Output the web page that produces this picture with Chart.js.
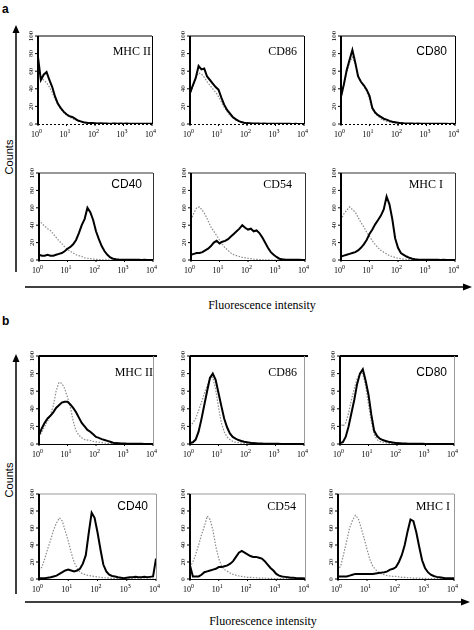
<!DOCTYPE html>
<html>
<head>
<meta charset="utf-8">
<script src="https://cdn.jsdelivr.net/npm/chart.js@4.4.1/dist/chart.umd.min.js"></script>
<style>
html, body { margin: 0; padding: 0; background: #fff; }
#fig { position: relative; width: 474px; height: 630px; overflow: hidden; }
#fig svg { position: absolute; left: 0; top: 0; }
#fig canvas { position: absolute; }
</style>
</head>
<body>
<div id="fig">
<svg width="474" height="630">
  <g fill="#000" stroke="none">
    <text x="2" y="13" font-family="Liberation Sans" font-weight="bold" font-size="12">a</text>
    <text x="2" y="325" font-family="Liberation Sans" font-weight="bold" font-size="12">b</text>
    <polygon points="16,25 12.5,33 19.5,33"/>
    <polygon points="472,287 463,283.5 463,290.5"/>
    <polygon points="16,354 12.5,362 19.5,362"/>
    <polygon points="470,602 461,598.5 461,605.5"/>
    <text transform="translate(13,157) rotate(-90)" text-anchor="middle" font-family="Liberation Sans" font-size="11">Counts</text>
    <text transform="translate(13,480) rotate(-90)" text-anchor="middle" font-family="Liberation Sans" font-size="11">Counts</text>
    <text x="262" y="309" text-anchor="middle" font-family="Liberation Serif" font-size="12">Fluorescence intensity</text>
    <text x="263" y="625" text-anchor="middle" font-family="Liberation Serif" font-size="12">Fluorescence intensity</text>
  </g>
  <g stroke="#000" stroke-width="1.5">
    <line x1="16" y1="31" x2="16" y2="272"/>
    <line x1="25" y1="287" x2="464" y2="287"/>
    <line x1="16" y1="360" x2="16" y2="594"/>
    <line x1="25" y1="602" x2="462" y2="602"/>
  </g>
</svg>
</div>
<script>
// fluorescence channel positions (0.1 decade steps)
const fluor = [1, 1.26, 1.58, 2, 2.51, 3.16, 3.98, 5.01, 6.31, 7.94,
    10, 12.6, 15.8, 20, 25.1, 31.6, 39.8, 50.1, 63.1, 79.4,
    100, 126, 158, 200, 251, 316, 398, 501, 631, 794,
    1000, 1259, 1585, 1995, 2512, 3162, 3981, 5012, 6310, 7943,
    10000];
const xDecades = [1, 10, 100, 1000, 10000];
const xExponents = ["0", "1", "2", "3", "4"];
const yTicks = [0, 20, 40, 60, 80, 100];
const markers = ["MHC II", "CD86", "CD80", "CD40", "CD54", "MHC I"];

// panel a
const aMhc2Stained = [76, 50, 56, 59, 50, 42, 31, 23, 18, 14,
    11, 9, 8, 6, 4, 3, 2, 1.5, 1, 1,
    0.8, 0.6, 0.8, 0.5, 0.6, 0.4, 0.5, 0.7, 0.4, 0.5,
    0.3, 0.5, 0.4, 0.3, 0.4, 0.3, 0.3, 0.4, 0.3, 0.2,
    0.3];
const aMhc2Control = [55, 52, 50, 47, 42, 36, 28, 22, 17, 13,
    10, 8, 6, 5, 3.5, 2.5, 1.5, 1, 0.6, 0.4,
    0.3, 0.2, 0.2, 0.1, 0.1, 0, 0, 0, 0, 0,
    0, 0, 0, 0, 0, 0, 0, 0, 0, 0,
    0];
const aCd86Stained = [35, 44, 52, 66, 62, 63, 54, 50, 46, 42,
    39, 30, 22, 16, 12, 8, 5.5, 3.5, 2.2, 1.5,
    1, 0.8, 0.6, 0.5, 0.6, 0.4, 0.5, 0.3, 0.4, 0.3,
    0.3, 0.2, 0.3, 0.2, 0.2, 0.2, 0.1, 0.2, 0.1, 0.1,
    0.1];
const aCd86Control = [33, 42, 52, 58, 57, 53, 48, 44, 40, 36,
    31, 25, 19, 14, 10, 7, 4.5, 3, 2, 1.2,
    0.8, 0.5, 0.3, 0.2, 0.1, 0, 0, 0, 0, 0,
    0, 0, 0, 0, 0, 0, 0, 0, 0, 0,
    0];
const aCd80Stained = [31, 45, 61, 73, 84, 70, 54, 48, 44, 39,
    32, 18, 13, 10, 8, 6, 5, 3.5, 2.5, 2,
    1.5, 1, 0.8, 0.7, 0.5, 0.6, 0.4, 0.5, 0.3, 0.4,
    0.3, 0.4, 0.2, 0.3, 0.2, 0.3, 0.2, 0.2, 0.1, 0.2,
    0.1];
const aCd80Control = [30, 43, 58, 70, 76, 68, 55, 48, 43, 37,
    28, 17, 12, 9, 6, 4, 3, 2, 1.5, 1,
    0.6, 0.4, 0.3, 0.2, 0.1, 0, 0, 0, 0, 0,
    0, 0, 0, 0, 0, 0, 0, 0, 0, 0,
    0];
const aCd40Stained = [6, 5, 5, 6, 5, 5, 6, 7, 8, 10,
    13, 15, 18, 23, 31, 40, 47, 60, 55, 46,
    33, 24, 16, 10, 6, 3, 1.5, 0.8, 0.5, 0.4,
    0.3, 0.3, 0.2, 0.3, 0.2, 0.2, 0.1, 0.2, 0.1, 0.1,
    0.1];
const aCd40Control = [46, 42, 39, 36, 34, 30, 26, 22, 19, 15,
    12, 10, 8, 6, 5, 4, 2.5, 2, 1.5, 1,
    0.8, 0.5, 0.3, 0.2, 0.1, 0, 0, 0, 0, 0,
    0, 0, 0, 0, 0, 0, 0, 0, 0, 0,
    0];
const aCd54Stained = [6, 7, 8, 8, 9, 11, 13, 16, 20, 22,
    19, 21, 22, 24, 27, 30, 33, 36, 40, 37,
    35, 36, 33, 34, 31, 26, 20, 14, 9, 6,
    3.5, 1.5, 0.8, 0.5, 0.4, 0.3, 0.3, 0.2, 0.2, 0.1,
    0.1];
const aCd54Control = [46, 54, 60, 61, 57, 52, 45, 38, 33, 28,
    23, 18, 14, 11, 8, 6, 5, 4, 3, 2.5,
    2, 1.5, 1, 0.7, 0.5, 0.3, 0.2, 0.1, 0, 0,
    0, 0, 0, 0, 0, 0, 0, 0, 0, 0,
    0];
const aMhc1Stained = [4, 5, 6, 7, 8, 9, 11, 14, 18, 23,
    30, 35, 41, 46, 51, 58, 73, 64, 47, 25,
    14, 8, 6, 4, 2.5, 1.5, 1, 0.6, 0.4, 0.3,
    0.3, 0.2, 0.3, 0.2, 0.2, 0.1, 0.2, 0.1, 0.1, 0.1,
    0.1];
const aMhc1Control = [46, 53, 57, 61, 58, 55, 49, 43, 38, 32,
    27, 22, 18, 14, 11, 9, 7, 5, 4, 3,
    2, 1.5, 1, 0.7, 0.5, 0.3, 0.2, 0.1, 0, 0,
    0, 0, 0, 0, 0, 0, 0, 0, 0, 0,
    0];

// panel b
const bMhc2Stained = [10, 18, 24, 29, 32, 36, 41, 44, 47, 48,
    48, 45, 41, 36, 30, 24, 20, 16, 14, 11,
    8, 7, 5.5, 4.5, 3.5, 2.5, 1.5, 1, 0.8, 0.6,
    0.5, 0.4, 0.3, 0.3, 0.2, 0.2, 0.2, 0.1, 0.1, 0.1,
    0.1];
const bMhc2Control = [8, 14, 20, 26, 33, 43, 60, 70, 69, 63,
    53, 42, 26, 15, 10, 7, 5, 4.5, 4, 3,
    2.5, 2, 1.5, 1, 0.7, 0.5, 0.3, 0.2, 0.1, 0,
    0, 0, 0, 0, 0, 0, 0, 0, 0, 0,
    0];
const bCd86Stained = [1, 2, 5, 14, 28, 44, 60, 75, 80, 73,
    58, 43, 29, 19, 12, 8, 6, 4.5, 3.5, 2.5,
    2, 1.5, 1, 0.8, 0.6, 0.5, 0.4, 0.3, 0.3, 0.2,
    0.2, 0.2, 0.1, 0.1, 0.1, 0.1, 0.1, 0.1, 0.1, 0.1,
    0.1];
const bCd86Control = [20, 24, 29, 38, 47, 57, 66, 74, 76, 62,
    42, 24, 14, 8, 5, 3, 2, 1.5, 1, 0.6,
    0.4, 0.2, 0.1, 0, 0, 0, 0, 0, 0, 0,
    0, 0, 0, 0, 0, 0, 0, 0, 0, 0,
    0];
const bCd80Stained = [1, 2, 8, 20, 35, 50, 68, 80, 85, 72,
    56, 33, 15, 9, 6, 4.5, 3.5, 2.5, 2, 1.5,
    1, 0.8, 0.6, 0.5, 0.4, 0.3, 0.3, 0.2, 0.2, 0.2,
    0.1, 0.1, 0.1, 0.1, 0.1, 0.1, 0.1, 0.1, 0.1, 0.1,
    0.1];
const bCd80Control = [25, 20, 24, 35, 50, 63, 74, 80, 80, 66,
    45, 25, 11, 5, 3, 2, 1.5, 1, 0.5, 0.3,
    0.2, 0.1, 0, 0, 0, 0, 0, 0, 0, 0,
    0, 0, 0, 0, 0, 0, 0, 0, 0, 0,
    0];
const bCd40Stained = [1, 1, 1, 1.5, 2, 3, 4, 6, 8, 10,
    11, 10, 9, 10, 12, 18, 28, 54, 78, 72,
    55, 35, 17, 9, 5, 3.5, 3, 2, 1.5, 1,
    1.5, 2, 2, 2.5, 2, 2, 2.5, 2, 2.5, 3,
    24];
const bCd40Control = [10, 14, 24, 36, 46, 58, 66, 72, 68, 56,
    45, 31, 20, 13, 8, 6, 5, 4, 3.5, 3,
    2.5, 2, 1.5, 1.5, 1, 0.8, 0.6, 0.5, 0.4, 0.3,
    0.2, 0.2, 0.1, 0.1, 0, 0, 0, 0, 0, 0,
    0];
const bCd54Stained = [16, 3, 3, 3, 5, 8, 9, 10, 11, 12,
    14, 14, 15, 16, 18, 21, 26, 31, 33, 31,
    29, 27, 26, 26, 25, 24, 21, 17, 13, 10,
    6, 4, 3, 2.5, 2, 1.5, 1.5, 1, 1, 1,
    0.5];
const bCd54Control = [14, 20, 29, 40, 52, 62, 74, 70, 57, 38,
    24, 15, 11, 9, 7, 5.5, 4.5, 3.5, 3, 2.5,
    2, 2, 1.5, 1.5, 1, 1, 1, 0.8, 0.8, 0.6,
    0.5, 0.5, 0.4, 0.4, 0.3, 0.3, 0.2, 0.2, 0.2, 0.1,
    0.1];
const bMhc1Stained = [3, 3, 3, 3, 4, 5, 6, 6, 6, 6,
    6, 6, 6, 6.5, 7, 7.5, 8, 9, 11, 12,
    14, 20, 28, 40, 56, 70, 68, 55, 38, 22,
    13, 8, 5, 3.5, 2.5, 2, 1.5, 1, 1, 1,
    1];
const bMhc1Control = [10, 16, 30, 45, 60, 69, 75, 71, 60, 48,
    35, 23, 15, 11, 8, 6, 5, 4, 3.5, 3,
    3, 2.5, 2, 2, 1.5, 1.5, 1, 1, 1, 0.8,
    0.8, 0.6, 0.5, 0.5, 0.4, 0.4, 0.3, 0.3, 0.2, 0.2,
    0.2];

const SERIF = '12px "Liberation Serif"';
const SANS = '12px "Liberation Sans"';

// box styles for the four rows of histograms
const rowA1 = { topWidth: 1, topColor: "#000", topExtend: 0, rightColor: "#000", bottomDash: [2, 2] };
const rowA2 = { topWidth: 1, topColor: "#333", topExtend: 0, rightColor: "#333", bottomDash: [] };
const rowB1 = { topWidth: 2, topColor: "#000", topExtend: 4, rightColor: "#999", bottomDash: [] };
const rowB2 = { topWidth: 1, topColor: "#999", topExtend: 0, rightColor: "#999", bottomDash: [] };

const histograms = [
    { left: 38, top: 36, w: 114, h: 88, label: markers[0], font: SERIF, lr: 1, lb: 19, row: rowA1, stained: aMhc2Stained, control: aMhc2Control },
    { left: 190, top: 36, w: 114, h: 88, label: markers[1], font: SERIF, lr: 7, lb: 19, row: rowA1, stained: aCd86Stained, control: aCd86Control },
    { left: 341, top: 36, w: 114, h: 88, label: markers[2], font: SANS, lr: 8, lb: 19, row: rowA1, stained: aCd80Stained, control: aCd80Control },
    { left: 39, top: 173, w: 114, h: 87, label: markers[3], font: SANS, lr: 11, lb: 15, row: rowA2, stained: aCd40Stained, control: aCd40Control },
    { left: 191, top: 173, w: 114, h: 87, label: markers[4], font: SERIF, lr: 13, lb: 15, row: rowA2, stained: aCd54Stained, control: aCd54Control },
    { left: 341, top: 173, w: 114, h: 87, label: markers[5], font: SERIF, lr: 12, lb: 15, row: rowA2, stained: aMhc1Stained, control: aMhc1Control },
    { left: 39, top: 356, w: 114, h: 88, label: markers[0], font: SERIF, lr: 0, lb: 20, row: rowB1, stained: bMhc2Stained, control: bMhc2Control },
    { left: 190, top: 356, w: 114, h: 88, label: markers[1], font: SERIF, lr: 7, lb: 20, row: rowB1, stained: bCd86Stained, control: bCd86Control },
    { left: 340, top: 356, w: 114, h: 88, label: markers[2], font: SANS, lr: 7, lb: 20, row: rowB1, stained: bCd80Stained, control: bCd80Control },
    { left: 39, top: 494, w: 117, h: 85, label: markers[3], font: SANS, lr: 8, lb: 16, row: rowB2, stained: bCd40Stained, control: bCd40Control },
    { left: 190, top: 494, w: 115, h: 85, label: markers[4], font: SERIF, lr: 9, lb: 16, row: rowB2, stained: bCd54Stained, control: bCd54Control },
    { left: 338, top: 494, w: 116, h: 85, label: markers[5], font: SERIF, lr: 4, lb: 16, row: rowB2, stained: bMhc1Stained, control: bMhc1Control }
];

const PAD_L = 22, PAD_T = 6, PAD_R = 8, PAD_B = 18;

function seg(ctx, x1, y1, x2, y2) {
    ctx.beginPath();
    ctx.moveTo(x1, y1);
    ctx.lineTo(x2, y2);
    ctx.stroke();
}

const facsFrame = {
    id: "facsFrame",
    afterDatasetsDraw(chart, args, o) {
        const { ctx, chartArea: a } = chart;
        const x = chart.scales.x, y = chart.scales.y;
        const row = o.row;
        ctx.save();
        ctx.fillStyle = "#000";
        ctx.strokeStyle = row.topColor;
        ctx.lineWidth = row.topWidth;
        seg(ctx, a.left, a.top, a.right + row.topExtend, a.top);
        ctx.strokeStyle = row.rightColor;
        ctx.lineWidth = 1;
        seg(ctx, a.right + 0.5, a.top, a.right + 0.5, a.bottom);
        ctx.strokeStyle = "#000";
        ctx.setLineDash(row.bottomDash);
        seg(ctx, a.left, a.bottom + 0.5, a.right, a.bottom + 0.5);
        ctx.setLineDash([]);
        ctx.lineWidth = 2;
        seg(ctx, a.left, a.top, a.left, a.bottom + 1);

        ctx.lineWidth = 1;
        ctx.font = '7px "Liberation Serif"';
        ctx.textAlign = "center";
        yTicks.forEach(v => {
            const py = y.getPixelForValue(v);
            seg(ctx, a.left - 3, py, a.left, py);
            ctx.save();
            ctx.translate(a.left - 5, py);
            ctx.rotate(-Math.PI / 2);
            ctx.fillText(String(v), 0, 0);
            ctx.restore();
        });

        xDecades.forEach((v, i) => {
            const px = x.getPixelForValue(v);
            seg(ctx, px, a.bottom, px, a.bottom + 2);
            ctx.font = '8px "Liberation Serif"';
            ctx.textAlign = "right";
            ctx.fillText("10", px + 1, a.bottom + 13);
            ctx.font = '6px "Liberation Serif"';
            ctx.textAlign = "left";
            ctx.fillText(xExponents[i], px + 1, a.bottom + 9);
        });

        ctx.font = o.font;
        ctx.textAlign = "right";
        ctx.fillText(o.label, a.right - o.lr, a.top + o.lb);
        ctx.restore();
    }
};

function toPoints(values) {
    return fluor.map((f, i) => ({ x: f, y: values[i] }));
}

const fig = document.getElementById("fig");
histograms.forEach(h => {
    const canvas = document.createElement("canvas");
    canvas.width = PAD_L + h.w + PAD_R;
    canvas.height = PAD_T + h.h + PAD_B;
    canvas.style.left = (h.left - PAD_L) + "px";
    canvas.style.top = (h.top - PAD_T) + "px";
    fig.appendChild(canvas);
    new Chart(canvas, {
        type: "line",
        data: {
            datasets: [
                { data: toPoints(h.stained), borderColor: "#000", borderWidth: 2, pointRadius: 0, tension: 0 },
                { data: toPoints(h.control), borderColor: "#8a8a8a", borderWidth: 1.2, borderDash: [1.5, 1.5], pointRadius: 0, tension: 0 }
            ]
        },
        options: {
            responsive: false,
            animation: false,
            devicePixelRatio: 1,
            layout: { padding: { top: PAD_T, right: PAD_R, left: 0, bottom: 0 } },
            plugins: {
                legend: { display: false },
                tooltip: { enabled: false },
                facsFrame: { row: h.row, label: h.label, font: h.font, lr: h.lr, lb: h.lb }
            },
            scales: {
                x: {
                    type: "logarithmic", min: 1, max: 10000,
                    ticks: { display: false }, grid: { display: false }, border: { display: false },
                    afterFit: s => { s.height = PAD_B; }
                },
                y: {
                    min: 0, max: 100,
                    ticks: { display: false }, grid: { display: false }, border: { display: false },
                    afterFit: s => { s.width = PAD_L; }
                }
            }
        },
        plugins: [facsFrame]
    });
});
</script>
</body>
</html>
